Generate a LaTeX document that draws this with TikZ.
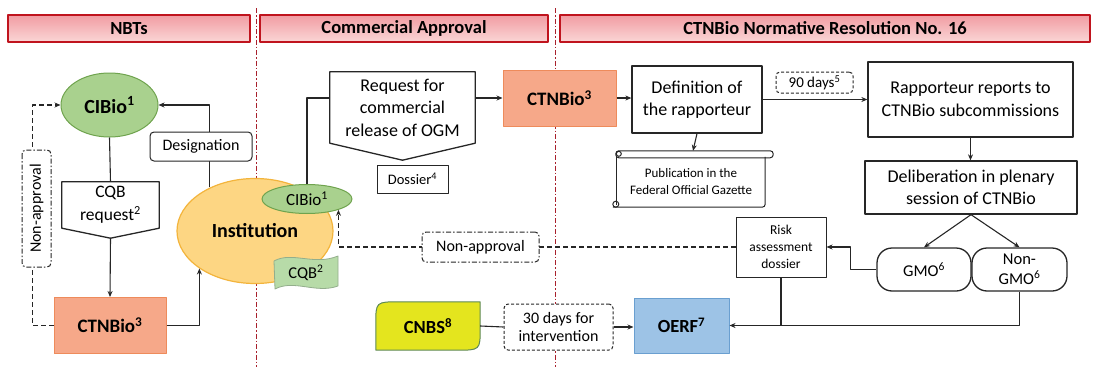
\documentclass[tikz,border=0pt]{standalone}
\usepackage{fontspec}
\setmainfont{Carlito}
\usetikzlibrary{arrows.meta,shapes.geometric,calc}

\definecolor{hdrred}{HTML}{C0141E}
\definecolor{hdrtop}{HTML}{F19CA2}
\definecolor{hdrbot}{HTML}{FAD6D6}
\definecolor{divred}{HTML}{A8202C}
\definecolor{cibfill}{HTML}{A9D18E}
\definecolor{cibline}{HTML}{6FA34E}
\definecolor{ctnfill}{HTML}{F6A889}
\definecolor{ctnline}{HTML}{EE8B5B}
\definecolor{instfill}{HTML}{FDD683}
\definecolor{instline}{HTML}{F3B43C}
\definecolor{cqbfill}{HTML}{B7DBA8}
\definecolor{cqbline}{HTML}{93AE8C}
\definecolor{oerffill}{HTML}{9DC3E6}
\definecolor{oerfline}{HTML}{6A9FD0}
\definecolor{cnbsfill}{HTML}{E4E51E}
\definecolor{cnbsline}{HTML}{5E8A55}

\begin{document}
\begin{tikzpicture}[
		x=1pt, y=-1pt,
		line join=round,
		>={Stealth[length=6pt,width=5pt]},
		hdr/.style={draw=hdrred, line width=2pt, top color=hdrtop, bottom color=hdrbot, 
			minimum height=27pt, inner sep=0pt, font=\fontsize{18.5}{22}\selectfont\bfseries},
		divider/.style={divred, line width=1pt, dash pattern=on 5pt off 2pt on 1.5pt off 2pt},
		txt/.style={font=\fontsize{18}{22.5}\selectfont, align=center, inner sep=0pt},
		box/.style={txt, draw=black!85, line width=1.3pt, fill=white},
		shapeline/.style={draw=black!85, line width=1.3pt},
		tag/.style={txt, draw=black!85, line width=1pt, fill=white, rounded corners=4pt},
		naptag/.style={tag, dash pattern=on 5pt off 2pt on 1.5pt off 2pt, font=\fontsize{16}{18}\selectfont},
		ctn/.style={draw=ctnline, fill=ctnfill, line width=1pt, minimum width=112pt, 
			minimum height=56pt, inner sep=0pt, font=\fontsize{19}{22}\selectfont\bfseries},
		cib/.style={ellipse, draw=cibline, fill=cibfill, line width=1pt, inner sep=0pt},
		link/.style={line width=1.1pt, black!85},
		nolink/.style={link, dash pattern=on 5pt off 3pt}
		]
		
		\useasboundingbox (0,0) rectangle (1101,367);
		
		\node[hdr, minimum width=242pt] (hnbt) at (129,28.5) {NBTs};
		\node[hdr, minimum width=288pt] (hcom) at (404,28.5) {Commercial Approval};
		\node[hdr, minimum width=530pt] (hres) at (825,28.5) {CTNBio Normative Resolution No. 16};
		
		\draw[divider] (256,8) -- (256,367);
		\draw[divider] (555,8) -- (555,367);
		
		\node[cib, minimum width=97pt, minimum height=64pt, 
		font=\fontsize{20}{24}\selectfont\bfseries] (cib1) at (109.5,105) {CIBio\textsuperscript{1}};
		\node[ctn] (ctn1) at (110,325.5) {CTNBio\textsuperscript{3}};
		\node[txt, font=\fontsize{17.5}{23}\selectfont, minimum width=97pt, minimum height=46pt] 
		(cqb1) at (110.5,205) {CQB\\request\textsuperscript{2}};
		\draw[shapeline] (cqb1.north west) -- (cqb1.north east) -- (cqb1.south east) -- 
		($(cqb1.south)+(0,10)$) coordinate (cqbtip) -- (cqb1.south west) -- cycle;
		
		\node[ellipse, draw=instline, fill=instfill, line width=1.2pt, minimum width=156pt, 
		minimum height=105pt, inner sep=0pt, font=\fontsize{20}{24}\selectfont\bfseries] 
		(inst) at (255,231) {Institution};
		\node[cib, minimum width=90pt, minimum height=29pt, font=\fontsize{17}{20}\selectfont] 
		(cib2) at (307,199) {CIBio\textsuperscript{1}};
		\draw[fill=cqbfill, draw=cqbline, line width=0.8pt] 
		(274,261) .. controls (292,251) and (314,266) .. (338,256) -- 
		(338,286) .. controls (316,294) and (294,279) .. (275,289) -- cycle;
		\node[txt, font=\fontsize{16.5}{18}\selectfont] (cqb2) at (306,273) {CQB\textsuperscript{2}};
		
		\draw[link] (cib1.south) -- (cqb1.north);
		\draw[link,->] (cqbtip) -- (ctn1.north);
		\draw[link,->] (ctn1.east) -| (inst.214);
		\draw[link,->] (inst.136) |- (cib1.east);
		\draw[nolink,->] (ctn1.west) -- ++(-21,0) |- (cib1.west);
		
		\node[tag, font=\fontsize{16}{18}\selectfont, minimum width=102pt, minimum height=29pt] 
		(desig) at (201,146.5) {Designation};
		\node[naptag, rotate=90, minimum width=117pt, minimum height=29pt] 
		(nap1) at (36.5,208.5) {Non-approval};
		
		\node[txt, minimum width=145pt, minimum height=71pt] (req) at (402.5,107.5) 
		{Request for\\commercial\\release of OGM};
		\draw[shapeline] (req.north west) -- (req.north east) -- (req.south east) -- 
		($(req.south)+(0,17)$) -- (req.south west) -- cycle;
		\node[box, line width=1pt, font=\fontsize{14.5}{16}\selectfont, minimum width=71pt, 
		minimum height=28pt] (dos) at (412.5,179) {Dossier\textsuperscript{4}};
		\node[ctn, minimum width=113pt] (ctn2) at (559.5,98) {CTNBio\textsuperscript{3}};
		
		\draw[link] (cib2.north) |- (ctn2.west -| req.west);
		\draw[link,->] (ctn2.west -| req.east) -- (ctn2.west);
		
		\node[minimum width=104pt, minimum height=48pt, inner sep=0pt] (cnbs) at (428,326) {};
		\draw[fill=cnbsfill, draw=cnbsline, line width=1pt] 
		(cnbs.south west) -- ($(cnbs.north west)+(0,22)$) .. controls (cnbs.north west) .. 
		($(cnbs.north west)+(24,0)$) -- (cnbs.north east) -- ($(cnbs.south east)+(0,-22)$) 
		.. controls (cnbs.south east) .. ($(cnbs.south east)+(-24,0)$) -- cycle;
		\node[txt, font=\fontsize{18.5}{22}\selectfont\bfseries] (cnbstxt) at (cnbs) {CNBS\textsuperscript{8}};
		\node[tag, dash pattern=on 3pt off 2pt, font=\fontsize{16}{18.5}\selectfont, 
		minimum width=109pt, minimum height=46pt] (d30) at (558.5,327) {30 days for\\intervention};
		\node[draw=oerfline, fill=oerffill, line width=1pt, minimum width=95pt, minimum height=55pt, 
		inner sep=0pt, font=\fontsize{18.5}{22}\selectfont\bfseries] (oerf) at (681.5,325.5) 
		{OERF\textsuperscript{7}};
		
		\node[box, minimum width=130pt, minimum height=67pt] (def) at (697,99.5) 
		{Definition of\\the rapporteur};
		\node[box, minimum width=205pt, minimum height=75pt] (rap) at (970.5,99.5) 
		{Rapporteur reports to\\CTNBio subcommissions};
		\node[box, minimum width=212pt, minimum height=53pt] (del) at (971,187.5) 
		{Deliberation in plenary\\session of CTNBio};
		\node[box, rounded corners=15pt, font=\fontsize{16.5}{20}\selectfont, minimum width=94pt, 
		minimum height=43pt] (gmo) at (924,269.5) {GMO\textsuperscript{6}};
		\node[box, rounded corners=15pt, font=\fontsize{16.5}{20}\selectfont, minimum width=95pt, 
		minimum height=43pt] (ngmo) at (1019.5,269.5) {Non-\\GMO\textsuperscript{6}};
		\node[box, line width=1pt, font=\fontsize{13.5}{17}\selectfont, minimum width=90pt, 
		minimum height=60pt] (risk) at (781,247) {Risk\\assessment\\dossier};
		
		\node[txt, font=\fontsize{13}{17}\selectfont, minimum width=148pt, minimum height=50pt] 
		(pub) at (691,182) {Publication in the\\Federal Official Gazette};
		\draw[shapeline, line width=1pt, rounded corners=3pt] 
		($(pub.north west)+(-1,-6)$) rectangle ($(pub.north east)+(8,1)$);
		\draw[shapeline, line width=1pt] (pub.north west) -- ($(pub.south west)+(0,-2)$);
		\draw[shapeline, line width=1pt, rounded corners=3pt] 
		($(pub.south west)+(-4,0)$) -- (pub.south east) -- (pub.north east);
		\draw[shapeline, line width=1pt] ($(pub.north west)+(2,-3)$) circle (2.5);
		\draw[shapeline, line width=1pt] ($(pub.south west)+(-1,-3)$) circle (3);
		
		\draw[link,->] (ctn2.east) -- (ctn2.east -| def.west);
		\draw[link,->] (def.east) -- (def.east -| rap.west);
		\draw[link,->] (def.south) -- ($(pub.north)+(2,-6)$);
		\draw[link,->] (rap.south) -- (rap.south |- del.north);
		\draw[link,->] (del.south) -- (gmo.north);
		\draw[link,->] (del.south) -- (ngmo.north);
		\draw[link,->] (gmo.west) -- ++(-26,0) |- (risk.east);
		\draw[link,->] (ngmo.south) |- (oerf.east);
		\draw[link] (risk.south) -- (risk.south |- oerf.east);
		\draw[link] (cnbs.east) -- (d30.west);
		\draw[link,->] (d30.east) -- (d30.east -| oerf.west);
		\draw[nolink,->] (risk.west) -| (cib2.-19);
		
		\node[tag, dash pattern=on 3pt off 2pt, font=\fontsize{15}{17}\selectfont, minimum width=77pt, 
		minimum height=21pt] (d90) at (814.5,82.5) {90 days\textsuperscript{5}};
		\node[naptag, minimum width=117pt, minimum height=30pt] (nap2) at (480.5,247) {Non-approval};
		
	\end{tikzpicture}
\end{document}
